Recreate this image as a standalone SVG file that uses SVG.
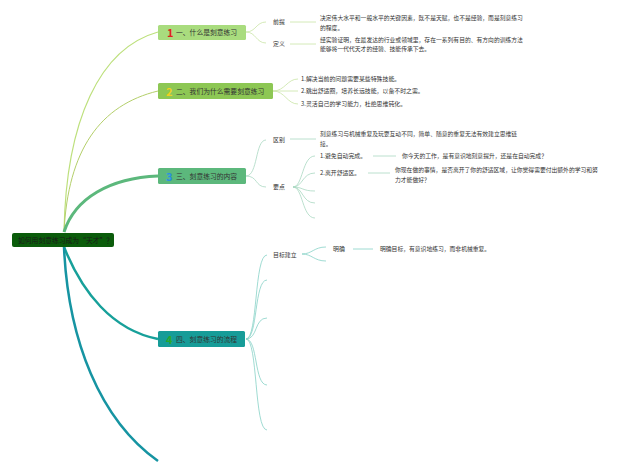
<svg xmlns="http://www.w3.org/2000/svg" width="640" height="473" viewBox="0 0 640 473">
<style>
text{font-family:"Noto Sans CJK SC","Noto Sans",sans-serif;fill:#333}
.t{font-size:6.8px}
.s{font-size:5.9px}
.d{font-size:5.8px}
.n{font-size:11px;font-weight:bold}
.l1{fill:none;stroke:#c9e5a6;stroke-width:0.8}
.l3{fill:none;stroke:#a9d8c2;stroke-width:0.8}
.l4{fill:none;stroke:#86d2c6;stroke-width:0.8}
</style>
<rect width="640" height="473" fill="#ffffff"/>
<g id="connectors">
<path d="M64,232 C66,120 100,48 158,32" fill="none" stroke="#bde07c" stroke-width="1.2"/>
<path d="M64,232 C68,150 100,105 158,91" fill="none" stroke="#b4cf6a" stroke-width="1"/>
<path d="M64,232 C75,198 110,178 158,176" fill="none" stroke="#5cb87c" stroke-width="3"/>
<path d="M64,247 C82,292 112,330 158,339" fill="none" stroke="#17a09a" stroke-width="2.5"/>
<path d="M64,247 C68,340 100,420 158,461" fill="none" stroke="#1694a2" stroke-width="2.5"/>
<path class="l1" d="M246,32 C256,32 256,22 266,22 M246,32 C256,32 256,43 266,43"/>
<path class="l1" d="M290,22 H316 M290,44 H316"/>
<path class="l1" d="M273,91 C285,91 287,79 298,79 M273,91 H298 M273,91 C285,91 287,104 298,104"/>
<path class="l3" d="M246,176 C258,176 255,140 266,140 M246,176 C258,176 255,187 266,187"/>
<path class="l3" d="M290,139 H316"/>
<path class="l3" d="M293,187 C303,187 302,156 315,156 M293,187 C303,187 302,173 315,173 M293,187 C303,187 302,191 315,191 M293,187 C303,187 302,203 315,203 M293,187 C303,187 302,218 315,218"/>
<path class="l3" d="M373,156 H396 M368,173 H390"/>
<path class="l4" d="M246,339 C258,339 254,255 267,255 M246,339 C258,339 254,280 267,280 M246,339 C258,339 254,318 267,318 M246,339 C258,339 254,385 267,385 M246,339 C258,339 254,430 267,430"/>
<path class="l4" d="M302,254 C312,254 314,247 326,247 M302,254 C312,254 314,261 326,261"/>
<path class="l4" d="M353,249 H373"/>
</g>
<g id="root">
<rect x="12" y="233" width="102" height="14" rx="2" fill="#0b5c0b"/>
<text class="t" x="18" y="242.5" style="fill:#1a1a1a">如何用刻意练习成为“天才”？</text>
</g>
<g id="node1">
<rect x="158" y="25" width="88" height="15" rx="1.5" fill="#a9dc7e"/>
<text class="n" x="167" y="37" style="fill:#e02020">1</text>
<text class="t" x="176" y="35">一、什么是刻意练习</text>
</g>
<g id="node1-a"><text class="s" x="273" y="24">前提</text></g>
<g id="node1-a1"><text class="d" x="320" y="20">决定伟大水平和一般水平的关键因素，既不是天赋，也不是经验，而是刻意练习</text><text class="d" x="320" y="30">的程度。</text></g>
<g id="node1-b"><text class="s" x="273" y="46">定义</text></g>
<g id="node1-b1"><text class="d" x="320" y="42">经实验证明，在最发达的行业或领域里，存在一系列有目的、有方向的训练方法</text><text class="d" x="320" y="51">能够将一代代天才的经验、技能传承下去。</text></g>
<g id="node2">
<rect x="158" y="83" width="115" height="16" rx="1.5" fill="#8dc754"/>
<text class="n" x="166" y="95.5" style="fill:#f0d020">2</text>
<text class="t" x="176" y="93.5">二、我们为什么需要刻意练习</text>
</g>
<g id="node2-a"><text class="s" x="301" y="81">1.解决当前的问题需要某些特殊技能。</text></g>
<g id="node2-b"><text class="s" x="301" y="93">2.跳出舒适圈，培养长远技能，以备不时之需。</text></g>
<g id="node2-c"><text class="s" x="301" y="106">3.灵活自己的学习能力，杜绝思维钝化。</text></g>
<g id="node3">
<rect x="158" y="168" width="88" height="16" rx="1.5" fill="#5cb87c"/>
<text class="n" x="166" y="180.5" style="fill:#2b8fe0">3</text>
<text class="t" x="176" y="178.5">三、刻意练习的内容</text>
</g>
<g id="node3-a"><text class="s" x="273" y="142">区别</text></g>
<g id="node3-a1"><text class="d" x="320" y="136">刻意练习与机械重复及玩耍互动不同，简单、随意的重复无法有效建立思维链</text><text class="d" x="320" y="146">接。</text></g>
<g id="node3-b"><text class="s" x="273" y="189">要点</text></g>
<g id="node3-b1"><text class="s" x="320" y="158">1.避免自动完成。</text></g>
<g id="node3-b1a"><text class="d" x="402" y="158">你今天的工作，是有意识地刻意提升，还是在自动完成？</text></g>
<g id="node3-b2"><text class="s" x="320" y="175">2.离开舒适区。</text></g>
<g id="node3-b2a"><text class="d" x="395" y="172">你现在做的事情，是否离开了你的舒适区域，让你觉得需要付出额外的学习和努</text><text class="d" x="395" y="182">力才能做好？</text></g>
<g id="node4">
<rect x="158" y="331" width="87" height="16" rx="1.5" fill="#169c98"/>
<text class="n" x="166" y="343.5" style="fill:#2aa82a">4</text>
<text class="t" x="176" y="341.5">四、刻意练习的流程</text>
</g>
<g id="node4-a"><text class="s" x="273" y="257">目标建立</text></g>
<g id="node4-a1"><text class="s" x="333" y="251">明确</text></g>
<g id="node4-a1a"><text class="d" x="380" y="251">明确目标，有意识地练习，而非机械重复。</text></g>
</svg>
